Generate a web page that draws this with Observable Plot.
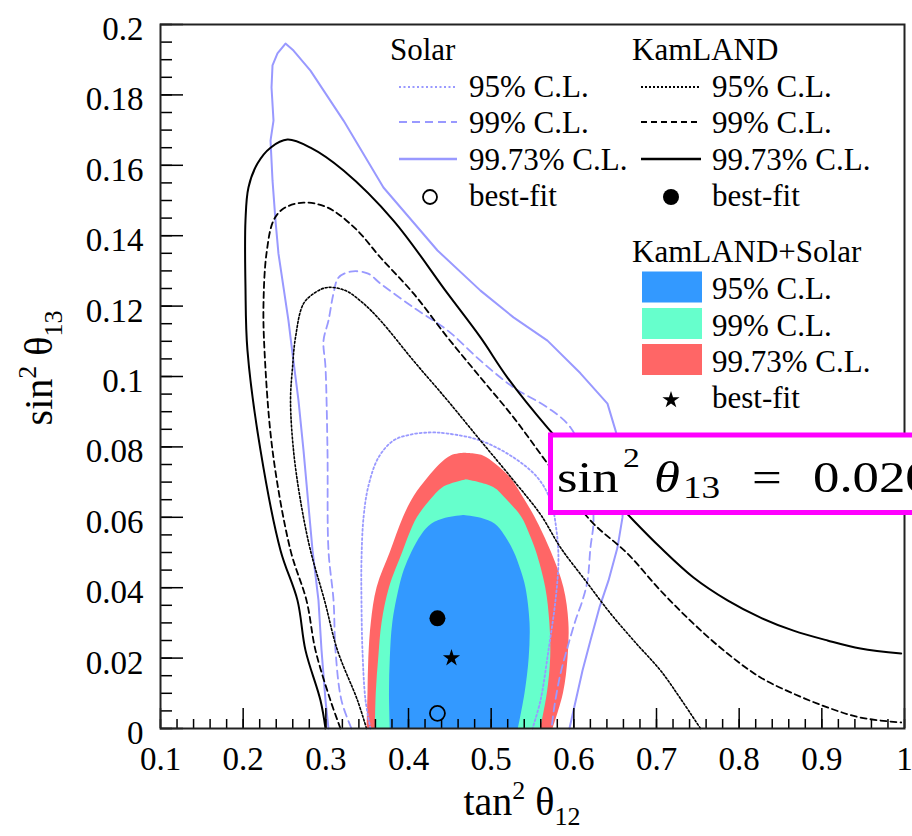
<!DOCTYPE html>
<html>
<head>
<meta charset="utf-8">
<script src="https://cdn.jsdelivr.net/npm/d3@7"></script>
<script src="https://cdn.jsdelivr.net/npm/@observablehq/plot@0.6"></script>
<style>
  html, body { margin: 0; padding: 0; background: #fff; overflow: hidden; }
  #chart { width: 912px; height: 836px; overflow: hidden; }
</style>
</head>
<body>
<div id="chart"></div>
<script>
// ---- axis ticks and labels ----
const xMajor = [0.1, 0.2, 0.3, 0.4, 0.5, 0.6, 0.7, 0.8, 0.9, 1.0];
const xTickLabels = ["0.1", "0.2", "0.3", "0.4", "0.5", "0.6", "0.7", "0.8", "0.9", "1"];
const yMajor = [0, 0.02, 0.04, 0.06, 0.08, 0.1, 0.12, 0.14, 0.16, 0.18, 0.2];
const yTickLabels = ["0", "0.02", "0.04", "0.06", "0.08", "0.1", "0.12", "0.14", "0.16", "0.18", "0.2"];
const xMinor = d3.range(0.1, 1.0001, 0.02);
const yMinor = d3.range(0, 0.2001, 0.005);

// ---- KamLAND contours [tan²θ12, sin²θ13] ----
const kamland9973 = [[0.2996,0],[0.2935,0.0080],[0.2754,0.0222],[0.2657,0.0364],[0.2452,0.0506],[0.2210,0.0790],[0.2052,0.1074],[0.2028,0.1253],[0.2028,0.1443],[0.2064,0.1537],[0.2173,0.1605],[0.2331,0.1650],[0.2536,0.1673],[0.2814,0.1650],[0.3214,0.1585],[0.3818,0.1443],[0.4472,0.1236],[0.4871,0.1111],[0.5197,0.0997],[0.5681,0.0855],[0.6200,0.0722],[0.6722,0.0591],[0.7048,0.0514],[0.7447,0.0429],[0.7859,0.0364],[0.8258,0.0315],[0.8657,0.0278],[0.9068,0.0250],[0.9467,0.0227],[0.9960,0.0213]];
const kamland99 = [[0.3177,0],[0.3056,0.0080],[0.2875,0.0222],[0.2766,0.0364],[0.2573,0.0506],[0.2355,0.0790],[0.2258,0.1074],[0.2246,0.1207],[0.2282,0.1349],[0.2367,0.1443],[0.2488,0.1477],[0.2730,0.1494],[0.3020,0.1480],[0.3359,0.1420],[0.3661,0.1338],[0.4060,0.1236],[0.4472,0.1111],[0.4871,0.0997],[0.5270,0.0884],[0.5681,0.0753],[0.6201,0.0591],[0.6649,0.0497],[0.7048,0.0392],[0.7447,0.0298],[0.7859,0.0213],[0.8258,0.0145],[0.8657,0.0099],[0.9068,0.0060],[0.9467,0.0031],[0.9960,0.0017]];
const kamland95 = [[0.3492,0],[0.3383,0.0080],[0.3141,0.0222],[0.2984,0.0364],[0.2814,0.0506],[0.2693,0.0648],[0.2609,0.0790],[0.2573,0.0932],[0.2597,0.1026],[0.2633,0.1111],[0.2730,0.1207],[0.2875,0.1239],[0.3020,0.1253],[0.3238,0.1244],[0.3443,0.1210],[0.3661,0.1159],[0.4060,0.1045],[0.4472,0.0932],[0.4871,0.0818],[0.5270,0.0705],[0.5597,0.0608],[0.5839,0.0514],[0.6141,0.0420],[0.6443,0.0327],[0.6746,0.0244],[0.7048,0.0165],[0.7290,0.0085],[0.7532,0]];

// ---- Solar contours ----
const solar9973 = [[0.3032,0],[0.2996,0.0080],[0.2948,0.0222],[0.2911,0.0364],[0.2839,0.0506],[0.2730,0.0790],[0.2669,0.0932],[0.2597,0.1065],[0.2548,0.1159],[0.2488,0.1253],[0.2427,0.1349],[0.2391,0.1443],[0.2355,0.1557],[0.2331,0.1670],[0.2367,0.1727],[0.2343,0.1821],[0.2355,0.1884],[0.2415,0.1918],[0.2512,0.1946],[0.2609,0.1926],[0.2814,0.1869],[0.3214,0.1727],[0.3697,0.1537],[0.4351,0.1358],[0.4871,0.1244],[0.5270,0.1168],[0.5681,0.1102],[0.6080,0.1009],[0.6407,0.0923],[0.6504,0.0847],[0.6625,0.0733],[0.6588,0.0599],[0.6528,0.0514],[0.6419,0.0420],[0.6310,0.0344],[0.6201,0.0250],[0.6105,0.0165],[0.5996,0.0051],[0.5947,0]];
const solar99 = [[0.3310,0],[0.3189,0.0080],[0.3117,0.0222],[0.3093,0.0364],[0.3032,0.0506],[0.3020,0.0790],[0.2996,0.1026],[0.2972,0.1102],[0.3032,0.1159],[0.3093,0.1236],[0.3153,0.1281],[0.3298,0.1298],[0.3504,0.1293],[0.3661,0.1264],[0.4060,0.1196],[0.4472,0.1131],[0.4871,0.1045],[0.5270,0.0969],[0.5681,0.0912],[0.5960,0.0855],[0.6177,0.0733],[0.6238,0.0591],[0.6201,0.0514],[0.6165,0.0420],[0.6105,0.0364],[0.6020,0.0307],[0.5923,0.0230],[0.5839,0.0156],[0.5766,0.0065],[0.5730,0]];
const solar95 = [[0.3540,0],[0.3480,0.0080],[0.3443,0.0222],[0.3431,0.0364],[0.3431,0.0477],[0.3456,0.0599],[0.3516,0.0690],[0.3637,0.0770],[0.3818,0.0818],[0.4024,0.0835],[0.4266,0.0841],[0.4472,0.0838],[0.4871,0.0818],[0.5270,0.0770],[0.5560,0.0713],[0.5718,0.0648],[0.5790,0.0563],[0.5814,0.0477],[0.5778,0.0364],[0.5693,0.0222],[0.5597,0.0080],[0.5500,0]];

// ---- KamLAND+Solar allowed regions: left/right edge at each sin²θ13 level ----
const cl9973Y     = [0, 0.01, 0.02, 0.03, 0.04, 0.05, 0.06, 0.066, 0.071, 0.075, 0.0775, 0.0782];
const cl9973Left  = [0.350, 0.351, 0.352, 0.355, 0.362, 0.378, 0.394, 0.407, 0.423, 0.438, 0.452, 0.467];
const cl9973Right = [0.575, 0.5875, 0.593, 0.594, 0.588, 0.573, 0.553, 0.538, 0.524, 0.506, 0.490, 0.467];
const cl99Y       = [0, 0.01, 0.02, 0.03, 0.04, 0.05, 0.055, 0.06, 0.065, 0.0685, 0.0707];
const cl99Left    = [0.360, 0.361, 0.364, 0.368, 0.377, 0.393, 0.401, 0.411, 0.427, 0.442, 0.470];
const cl99Right   = [0.560, 0.568, 0.572, 0.571, 0.566, 0.555, 0.547, 0.537, 0.519, 0.503, 0.470];
const cl95Y       = [0, 0.01, 0.02, 0.03, 0.04, 0.045, 0.05, 0.055, 0.058, 0.0597, 0.0605];
const cl95Left    = [0.378, 0.377, 0.378, 0.381, 0.389, 0.395, 0.404, 0.416, 0.428, 0.445, 0.467];
const cl95Right   = [0.533, 0.541, 0.546, 0.547, 0.542, 0.536, 0.528, 0.516, 0.505, 0.488, 0.467];

// ---- best-fit points ----
const solarBest = [0.435, 0.0043];
const kamlandBest = [0.435, 0.0313];
const combinedBest = [0.452, 0.020];
const combinedLabel = "0.020";

const levelLabels = ["95% C.L.", "99% C.L.", "99.73% C.L."];

const SERIF = "'Liberation Serif', 'Times New Roman', Times, serif";
const SOLAR = "#9999ff";
const FILLS = ["#3399ff", "#66ffcc", "#ff6666"];
const KL_DASH = ["2,2", "6,4", null];
const SO_DASH = ["2,2.5", "8,5", null];

const band = (ys, l, r) => ys.map((y, i) => ({y, x1: l[i], x2: r[i]}));
const px = d => d[0], py = d => d[1];

const plot = Plot.plot({
  width: 912,
  height: 836,
  marginLeft: 160,
  marginRight: 8,
  marginTop: 24,
  marginBottom: 108,
  x: {domain: [0.1, 1]},
  y: {domain: [0, 0.2]},
  style: {fontFamily: SERIF, background: "white", overflow: "hidden", color: "black"},
  marks: [
    Plot.areaX(band(cl9973Y, cl9973Left, cl9973Right), {y: "y", x1: "x1", x2: "x2", fill: FILLS[2], curve: "catmull-rom"}),
    Plot.areaX(band(cl99Y, cl99Left, cl99Right), {y: "y", x1: "x1", x2: "x2", fill: FILLS[1], curve: "catmull-rom"}),
    Plot.areaX(band(cl95Y, cl95Left, cl95Right), {y: "y", x1: "x1", x2: "x2", fill: FILLS[0], curve: "catmull-rom"}),

    Plot.line(solar95, {x: px, y: py, stroke: SOLAR, strokeWidth: 1.8, strokeDasharray: SO_DASH[0], curve: "catmull-rom"}),
    Plot.line(solar99, {x: px, y: py, stroke: SOLAR, strokeWidth: 1.8, strokeDasharray: SO_DASH[1], curve: "catmull-rom"}),
    Plot.line(solar9973, {x: px, y: py, stroke: SOLAR, strokeWidth: 2}),

    Plot.line(kamland95, {x: px, y: py, stroke: "black", strokeWidth: 1.6, strokeDasharray: KL_DASH[0], curve: "catmull-rom"}),
    Plot.line(kamland99, {x: px, y: py, stroke: "black", strokeWidth: 1.8, strokeDasharray: KL_DASH[1], curve: "catmull-rom"}),
    Plot.line(kamland9973, {x: px, y: py, stroke: "black", strokeWidth: 2, curve: "catmull-rom"}),

    Plot.dot([solarBest], {x: px, y: py, r: 7.5, stroke: "black", strokeWidth: 1.8, fill: "none"}),
    Plot.dot([kamlandBest], {x: px, y: py, r: 8, fill: "black", stroke: "none"}),
    Plot.dot([combinedBest], {x: px, y: py, r: 5.4, symbol: "star", fill: "black", stroke: "none"}),

    // inward ticks
    Plot.axisX(xMinor, {anchor: "bottom", tickSize: -9, fill: "none", strokeWidth: 1.5, label: null}),
    Plot.axisX(xMajor, {anchor: "bottom", tickSize: -20, fill: "none", strokeWidth: 1.5, label: null}),
    Plot.axisY(yMinor, {anchor: "left", tickSize: -12, fill: "none", strokeWidth: 1.5, label: null}),
    Plot.axisY(yMajor, {anchor: "left", tickSize: -23, fill: "none", strokeWidth: 1.5, label: null}),
    // tick labels
    Plot.axisX(xMajor, {anchor: "bottom", tickSize: 0, tickPadding: 18, fontSize: 33, fontFamily: SERIF, fill: "black",
      tickFormat: d => xTickLabels[xMajor.indexOf(d)], label: null}),
    Plot.axisY(yMajor, {anchor: "left", tickSize: 0, tickPadding: 17, dy: 5, fontSize: 33, fontFamily: SERIF, fill: "black",
      tickFormat: d => yTickLabels[yMajor.indexOf(d)], label: null}),
    Plot.frame({stroke: "#222", strokeWidth: 2})
  ]
});

document.getElementById("chart").appendChild(plot);

const svg = d3.select(plot);

// ---- axis titles ----
const xt = svg.append("text")
  .attr("x", 522).attr("y", 815)
  .attr("text-anchor", "middle")
  .attr("font-family", SERIF).attr("font-size", 40).attr("fill", "black");
xt.append("tspan").text("tan");
xt.append("tspan").attr("font-size", 26).attr("dy", -16).text("2");
xt.append("tspan").attr("dy", 16).text(" θ");
xt.append("tspan").attr("font-size", 26).attr("dy", 10).text("12");

const yt = svg.append("text")
  .attr("transform", "translate(52,368) rotate(-90)")
  .attr("text-anchor", "middle")
  .attr("font-family", SERIF).attr("font-size", 40).attr("fill", "black");
yt.append("tspan").text("sin");
yt.append("tspan").attr("font-size", 26).attr("dy", -16).text("2");
yt.append("tspan").attr("dy", 16).text(" θ");
yt.append("tspan").attr("font-size", 26).attr("dy", 10).text("13");

// ---- legend ----
const lg = svg.append("g").attr("font-family", SERIF).attr("font-size", 31)
  .attr("fill", "black").attr("text-anchor", "start");
const rowLine = [87, 122, 159];
const rowText = [97, 133, 170];

lg.append("text").attr("x", 390).attr("y", 60).text("Solar");
lg.append("text").attr("x", 632).attr("y", 60).text("KamLAND");
levelLabels.forEach((lab, i) => {
  lg.append("line").attr("x1", 399).attr("x2", 457).attr("y1", rowLine[i]).attr("y2", rowLine[i])
    .attr("stroke", SOLAR).attr("stroke-width", i === 2 ? 2.5 : 2).attr("stroke-dasharray", SO_DASH[i]);
  lg.append("text").attr("x", 469).attr("y", rowText[i]).text(lab);
  lg.append("line").attr("x1", 641).attr("x2", 701).attr("y1", rowLine[i]).attr("y2", rowLine[i])
    .attr("stroke", "black").attr("stroke-width", i === 2 ? 2.5 : 2).attr("stroke-dasharray", KL_DASH[i]);
  lg.append("text").attr("x", 712).attr("y", rowText[i]).text(lab);
});
lg.append("circle").attr("cx", 430).attr("cy", 197).attr("r", 7).attr("fill", "none").attr("stroke", "black").attr("stroke-width", 1.8);
lg.append("text").attr("x", 469).attr("y", 206).text("best-fit");
lg.append("circle").attr("cx", 671).attr("cy", 197).attr("r", 8).attr("fill", "black");
lg.append("text").attr("x", 712).attr("y", 206).text("best-fit");

lg.append("text").attr("x", 632).attr("y", 262).text("KamLAND+Solar");
const boxTop = [271.5, 308, 344];
const boxText = [299, 335.5, 372];
levelLabels.forEach((lab, i) => {
  lg.append("rect").attr("x", 642).attr("y", boxTop[i]).attr("width", 60).attr("height", 31).attr("fill", FILLS[i]);
  lg.append("text").attr("x", 712).attr("y", boxText[i]).text(lab);
});
lg.append("path").attr("d", d3.symbol(d3.symbolStar, 92)()).attr("transform", "translate(671,400)").attr("fill", "black");
lg.append("text").attr("x", 712).attr("y", 408).text("best-fit");

// ---- result annotation ----
const note = svg.append("g").attr("font-family", SERIF).attr("fill", "black").attr("text-anchor", "start");
note.append("rect").attr("x", 550.5).attr("y", 435).attr("width", 420).attr("height", 77.5)
  .attr("fill", "white").attr("stroke", "#ff00ff").attr("stroke-width", 5);
const piece = (x, y, size, txt, italic) => note.append("text")
  .attr("transform", `translate(${x},${y}) scale(1.2,1)`)
  .attr("font-size", size).attr("font-style", italic ? "italic" : null).text(txt);
piece(557, 492, 44, "sin");
piece(623, 467, 28, "2");
piece(654, 492, 44, "θ", true);
piece(683, 498, 31, "13");
piece(752, 492, 44, "=");
piece(813, 492, 44, combinedLabel);
</script>
</body>
</html>
